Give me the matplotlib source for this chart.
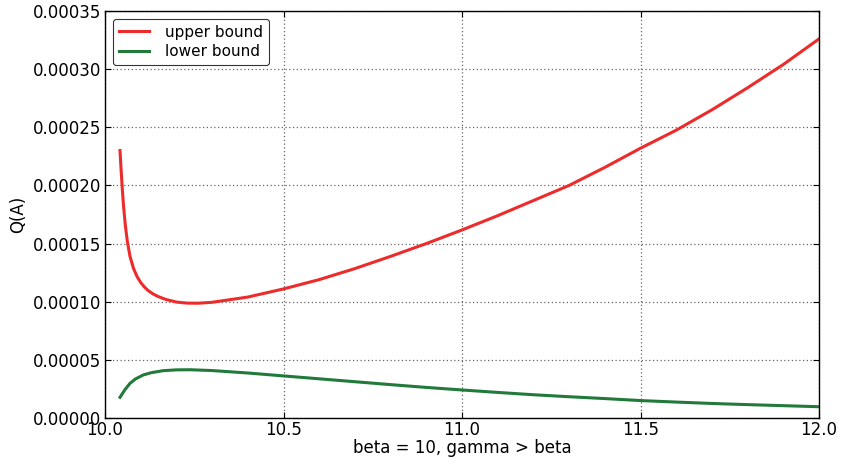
import matplotlib
matplotlib.use("Agg")
import matplotlib.pyplot as plt
from matplotlib.ticker import FormatStrFormatter, MultipleLocator

# gamma values and bounds
gamma_upper = [10.042, 10.045, 10.048, 10.052, 10.057, 10.0625, 10.07, 10.08, 10.09, 10.10,
               10.11, 10.12, 10.135, 10.15, 10.17, 10.20, 10.23, 10.26, 10.30, 10.40,
               10.50, 10.60, 10.70, 10.80, 10.90, 11.00, 11.10, 11.20, 11.30, 11.40,
               11.50, 11.60, 11.70, 11.80, 11.90, 12.00]
upper_bound = [2.30e-4, 2.14e-4, 1.99e-4, 1.82e-4, 1.655e-4, 1.52e-4, 1.39e-4, 1.285e-4,
               1.215e-4, 1.165e-4, 1.128e-4, 1.098e-4, 1.066e-4, 1.043e-4, 1.020e-4,
               0.997e-4, 0.988e-4, 0.987e-4, 0.995e-4, 1.04e-4, 1.11e-4, 1.19e-4,
               1.285e-4, 1.39e-4, 1.50e-4, 1.617e-4, 1.74e-4, 1.87e-4, 2.00e-4,
               2.155e-4, 2.32e-4, 2.475e-4, 2.65e-4, 2.84e-4, 3.04e-4, 3.26e-4]

gamma_lower = [10.042, 10.055, 10.07, 10.085, 10.107, 10.13, 10.163, 10.20, 10.24, 10.30,
               10.40, 10.50, 10.60, 10.70, 10.80, 10.90, 11.00, 11.10, 11.20, 11.30,
               11.40, 11.50, 11.60, 11.70, 11.80, 11.90, 12.00]
lower_bound = [1.78e-5, 2.4e-5, 2.98e-5, 3.35e-5, 3.7e-5, 3.9e-5, 4.07e-5, 4.14e-5,
               4.15e-5, 4.08e-5, 3.87e-5, 3.62e-5, 3.37e-5, 3.12e-5, 2.87e-5, 2.63e-5,
               2.41e-5, 2.2e-5, 2.0e-5, 1.83e-5, 1.67e-5, 1.5e-5, 1.37e-5, 1.25e-5,
               1.15e-5, 1.06e-5, 0.97e-5]

x_label = "beta = 10, gamma > beta"
y_label = "Q(A)"
series_labels = ["upper bound", "lower bound"]

plt.rcParams['font.family'] = ['DejaVu Sans']
fig = plt.figure(figsize=(8.41, 4.65), dpi=100)
fig.patch.set_facecolor('white')
ax = fig.add_axes([105/841, 47/465, 714/841, 407/465])

ax.plot(gamma_upper, upper_bound, color='#EE2B2B', lw=2.2, label=series_labels[0],
        solid_joinstyle='round')
ax.plot(gamma_lower, lower_bound, color='#217A3A', lw=2.2, label=series_labels[1],
        solid_joinstyle='round')

ax.set_xlim(10.0, 12.0)
ax.set_ylim(0.0, 0.00035)
ax.xaxis.set_major_locator(MultipleLocator(0.5))
ax.yaxis.set_major_locator(MultipleLocator(0.00005))
ax.xaxis.set_major_formatter(FormatStrFormatter('%.1f'))
ax.yaxis.set_major_formatter(FormatStrFormatter('%.5f'))
ax.tick_params(direction='in', top=True, right=True, length=4, width=0.8,
               labelsize=12, pad=2.5, colors='black')
ax.grid(True, color='0.4', linestyle=(0, (1, 2)), linewidth=0.9)
for s in ax.spines.values():
    s.set_linewidth(1.0)
    s.set_color('black')

ax.set_xlabel(x_label, fontsize=12, labelpad=0)
ax.set_ylabel(y_label, fontsize=12, labelpad=4)

leg = ax.legend(loc='upper left', fontsize=11, frameon=True, fancybox=True,
                borderaxespad=0.5, handlelength=2.0, borderpad=0.4,
                labelspacing=0.3, handletextpad=1.0)
leg.get_frame().set_edgecolor('black')
leg.get_frame().set_linewidth(0.8)

fig.savefig('out.png', dpi=100, facecolor='white')
